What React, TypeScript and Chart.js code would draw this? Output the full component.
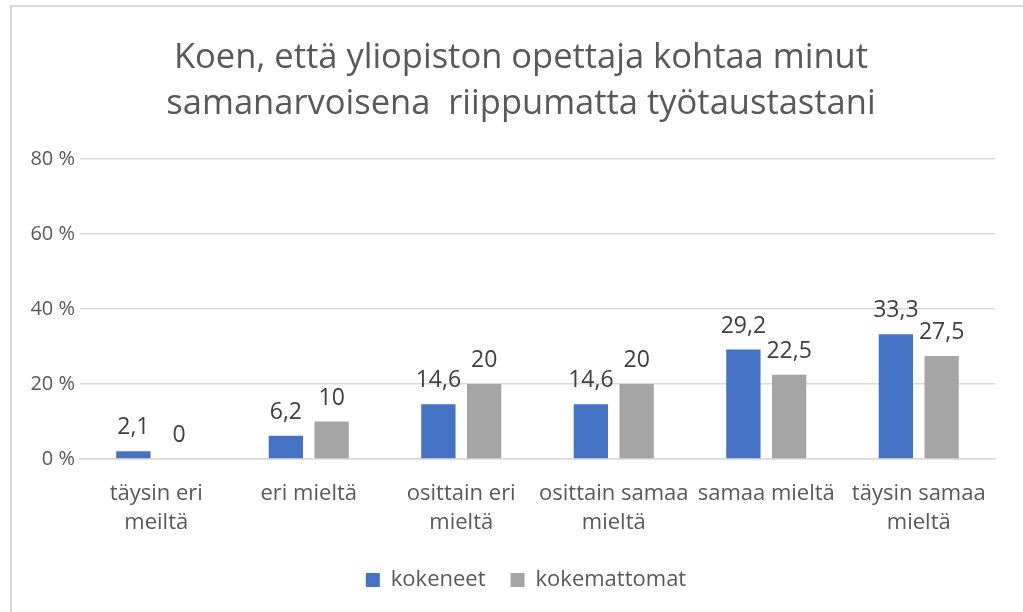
import React, { useEffect, useRef } from "react";
import { Chart, registerables } from "chart.js";

Chart.register(...registerables);

const categories: (string | string[])[] = [
  ["täysin eri", "meiltä"],
  "eri mieltä",
  ["osittain eri", "mieltä"],
  ["osittain samaa", "mieltä"],
  "samaa mieltä",
  ["täysin samaa", "mieltä"],
];
const kokeneet = [2.1, 6.2, 14.6, 14.6, 29.2, 33.3];
const kokemattomat = [0, 10, 20, 20, 22.5, 27.5];
const yTicks = [0, 20, 40, 60, 80];
const titleLines = [
  "Koen, että yliopiston opettaja kohtaa minut",
  "samanarvoisena  riippumatta työtaustastani",
];

const FONT = "'Open Sans', 'Noto Sans', sans-serif";
const TEXT = "#595959";

const valueLabels = {
  id: "valueLabels",
  afterDatasetsDraw(chart: any) {
    const ctx = chart.ctx;
    ctx.save();
    ctx.font = `23px ${FONT}`;
    ctx.fillStyle = "#404040";
    ctx.textAlign = "center";
    ctx.textBaseline = "alphabetic";
    chart.data.datasets.forEach((ds: any, di: number) => {
      const meta = chart.getDatasetMeta(di);
      meta.data.forEach((bar: any, i: number) => {
        const v = ds.data[i] as number;
        const txt = String(v).replace(".", ",");
        ctx.fillText(txt, bar.x, bar.y - 17);
      });
    });
    ctx.restore();
  },
};

const chartTitle = {
  id: "chartTitle",
  afterDraw(chart: any) {
    const ctx = chart.ctx;
    ctx.save();
    ctx.font = `34.5px ${FONT}`;
    ctx.fillStyle = TEXT;
    ctx.textAlign = "center";
    ctx.textBaseline = "middle";
    titleLines.forEach((line, i) => {
      ctx.fillText(line, 521, 58 + i * 46);
    });
    ctx.restore();
  },
};

// shift the legend box so it is centred like the reference
const legendShift = {
  id: "legendShift",
  afterLayout(chart: any) {
    if (chart.legend) {
      chart.legend.left += 37;
    }
  },
};

export default function App() {
  const ref = useRef<HTMLCanvasElement>(null);
  useEffect(() => {
    document.body.style.margin = "0";
    const chart = new Chart(ref.current!, {
      type: "bar",
      data: {
        labels: categories,
        datasets: [
          {
            label: "kokeneet",
            data: kokeneet,
            backgroundColor: "#4472C4",
            categoryPercentage: 0.6,
            barPercentage: 0.75,
          },
          {
            label: "kokemattomat",
            data: kokemattomat,
            backgroundColor: "#A5A5A5",
            categoryPercentage: 0.6,
            barPercentage: 0.75,
          },
        ],
      },
      options: {
        animation: false,
        responsive: false,
        maintainAspectRatio: false,
        layout: { padding: { top: 159, left: 20, right: 28, bottom: 11 } },
        plugins: {
          title: { display: false },
          legend: {
            position: "bottom",
            labels: {
              color: TEXT,
              font: { family: FONT, size: 22 },
              boxWidth: 14,
              boxHeight: 14,
              padding: 25,
            },
          },
          tooltip: { enabled: false },
        },
        scales: {
          x: {
            grid: { display: false },
            border: { color: "#d9d9d9", width: 1.5 },
            afterFit: (axis: any) => {
              axis.height = 85;
            },
            ticks: {
              color: TEXT,
              font: { family: FONT, size: 22, lineHeight: 29 / 22 },
              padding: 12,
              maxRotation: 0,
              autoSkip: false,
            },
          },
          y: {
            min: 0,
            max: 80,
            afterBuildTicks: (axis: any) => {
              axis.ticks = yTicks.map((v) => ({ value: v }));
            },
            afterFit: (axis: any) => {
              axis.width = 60;
            },
            grid: { color: "#d9d9d9", lineWidth: 1.5, drawTicks: false },
            border: { display: false },
            ticks: {
              color: TEXT,
              font: { family: FONT, size: 20 },
              padding: 5,
              callback: (v: any) => `${v} %`,
            },
          },
        },
      },
      plugins: [valueLabels, chartTitle, legendShift],
    });
    return () => chart.destroy();
  }, []);
  return (
    <div style={{ position: "relative", width: 1023, height: 612, background: "#fff", overflow: "hidden" }}>
      <div
        style={{
          position: "absolute",
          left: 10,
          top: 5,
          width: 1100,
          height: 700,
          borderLeft: "2px solid #d9d9d9",
          borderTop: "2px solid #d9d9d9",
        }}
      />
      <canvas ref={ref} width={1023} height={612} style={{ position: "absolute", left: 0, top: 0 }} />
    </div>
  );
}
